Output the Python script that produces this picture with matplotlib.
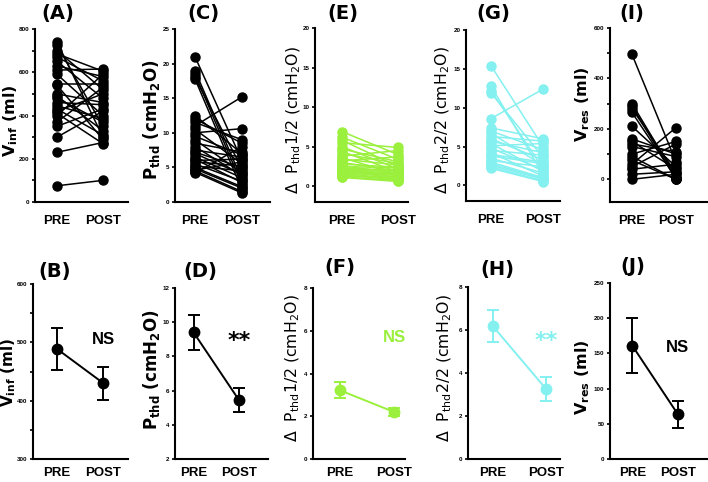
import matplotlib
matplotlib.use("Agg")
import matplotlib.pyplot as plt
from matplotlib.ticker import MultipleLocator

plt.rcParams['mathtext.default'] = 'regular'

# ---------------- data ----------------
groups = ["PRE", "POST"]

pre_A = [740, 725, 700, 685, 670, 650, 630, 610, 590, 545, 540, 500, 490, 480, 460, 445, 430, 420, 410, 400, 370, 350, 300, 230, 75]
post_A = [300, 350, 520, 605, 560, 480, 580, 615, 400, 545, 290, 460, 330, 370, 450, 385, 310, 500, 270, 590, 530, 430, 420, 275, 100]

pre_C = [21, 19, 18.5, 18, 17.8, 12.5, 12, 11.5, 11, 10.5, 10, 9.5, 9, 8.5, 8, 7.5, 7.2, 7, 6.5, 6.2, 6, 5.8, 5.5, 5.2, 5, 4.8, 4.6, 4.5, 4.3, 4.2]
post_C = [6.0, 3.2, 2.5, 4.8, 1.8, 7.0, 8.5, 9.0, 15.2, 5.5, 10.6, 6.8, 4.2, 7.2, 3.8, 6.5, 5.0, 4.0, 3.5, 2.8, 6.2, 5.2, 3.0, 4.5, 2.2, 2.0, 5.8, 1.5, 1.3, 8.0]

pre_E = [6.9, 6.2, 5.8, 5.5, 5.0, 4.7, 4.4, 4.1, 3.8, 3.6, 3.4, 3.2, 3.0, 2.8, 2.6, 2.5, 2.4, 2.3, 2.2, 2.1, 2.0, 1.9, 1.8, 1.7, 1.6, 1.5, 1.4, 1.3, 1.2, 1.1]
post_E = [4.0, 3.4, 2.5, 4.9, 2.2, 3.1, 1.8, 2.9, 4.5, 1.5, 2.7, 3.7, 1.9, 2.4, 1.6, 2.3, 1.3, 2.0, 1.1, 2.1, 1.5, 1.0, 1.8, 1.4, 0.9, 1.7, 0.8, 1.2, 0.7, 0.6]

pre_G = [15.4, 12.8, 12.2, 11.9, 8.6, 7.4, 7.0, 6.7, 6.3, 6.0, 5.7, 5.4, 5.1, 4.8, 4.5, 4.2, 4.0, 3.8, 3.5, 3.2, 3.0, 2.8, 2.6, 2.4, 2.2]
post_G = [5.0, 1.4, 2.2, 3.6, 12.4, 6.0, 4.6, 2.6, 5.7, 3.3, 4.2, 1.8, 5.4, 2.0, 3.9, 1.2, 3.0, 2.8, 1.6, 2.4, 1.0, 0.9, 0.8, 0.6, 0.5]

pre_I = [495, 300, 290, 280, 265, 210, 160, 150, 140, 130, 100, 90, 75, 60, 50, 40, 20, 0]
post_I = [70, 10, 0, 25, 5, 50, 100, 40, 110, 90, 150, 0, 0, 205, 140, 60, 30, 20]

mean_B = [489, 430]; sem_B = [36, 28]
mean_D = [9.4, 5.43]; sem_D = [1.0, 0.7]
mean_F = [3.22, 2.2]; sem_F = [0.36, 0.2]
mean_H = [6.18, 3.25]; sem_H = [0.73, 0.57]
mean_J = [161, 63.5]; sem_J = [39, 19]

BLACK = "#000000"
GREEN = "#9af03c"
CYAN = "#84f0f0"

W, H = 708, 482
fig = plt.figure(figsize=(W / 100, H / 100), dpi=100)

narrow = ['Liberation Sans', 'DejaVu Sans']


def make_ax(left, right, top, bottom, f0, f1, ylim, major, minor, pad=9):
    ax = fig.add_axes([left / W, 1 - bottom / H, (right - left) / W, (bottom - top) / H])
    span = 1.0 / (f1 - f0)
    ax.set_xlim(-f0 * span, (1 - f0) * span)
    ax.set_ylim(*ylim)
    for s in ['top', 'right']:
        ax.spines[s].set_visible(False)
    for s in ['left', 'bottom']:
        ax.spines[s].set_linewidth(1.5)
    ax.set_xticks([0, 1])
    ax.set_xticklabels(groups, fontsize=9.5, fontweight='bold', family=narrow,
                       fontstretch='condensed')
    ax.tick_params(axis='x', length=0, pad=pad)
    ax.yaxis.set_major_locator(MultipleLocator(major))
    if minor:
        ax.yaxis.set_minor_locator(MultipleLocator(minor))
    ax.tick_params(axis='y', which='both', direction='out', length=2.5, width=1.2,
                   labelsize=4.5, pad=1.5)
    for lab in ax.get_yticklabels():
        lab.set_fontweight('bold')
        lab.set_family(narrow)
    return ax


def paired(ax, pre, post, color):
    for a, b in zip(pre, post):
        ax.plot([0, 1], [a, b], color=color, lw=1.1, marker='o', ms=6.5,
                markerfacecolor=color, markeredgecolor=color, clip_on=False, zorder=3)


def meanplot(ax, mean, sem, color):
    ax.errorbar([0, 1], mean, yerr=sem, color=color, lw=1.4, marker='o', ms=7.5,
                capsize=4, capthick=1.4, elinewidth=1.4, zorder=3)


def ylabel(text, x, y, size=12, weight='bold'):
    fig.text(x / W, 1 - y / H, text, fontsize=size, fontweight=weight, rotation=90,
             ha='center', va='center')


def title(text, x, y):
    fig.text(x / W, 1 - y / H, text, fontsize=14, fontweight='bold', ha='center', va='center')


LBL_V = 11.5
LBL_P = 12
LBL_D = 11.3

# ---------------- top row ----------------
axA = make_ax(35, 128, 29, 202, 0.237, 0.73, (0, 800), 200, 100)
paired(axA, pre_A, post_A, BLACK)
ylabel(r'V$_{\mathbf{inf}}$ (ml)', 11, 121, LBL_V)
title('(A)', 58, 14)

axC = make_ax(175, 270, 29, 202, 0.21, 0.705, (0, 25), 5, None)
paired(axC, pre_C, post_C, BLACK)
ylabel(r'P$_{\mathbf{thd}}$ (cmH$_{\mathbf{2}}$O)', 151, 120, LBL_P)
title('(C)', 203, 14)

axE = make_ax(315, 408, 28, 202, 0.29, 0.89, (-2, 20), 5, None)
paired(axE, pre_E, post_E, GREEN)
ylabel(r'Δ  P$_{thd}$1/2 (cmH$_2$O)', 294, 120, LBL_D, 'normal')
title('(E)', 343, 14)

axG = make_ax(466, 560, 30, 201, 0.266, 0.82, (-2, 20), 5, None)
paired(axG, pre_G, post_G, CYAN)
ylabel(r'Δ  P$_{thd}$2/2 (cmH$_2$O)', 443, 120, LBL_D, 'normal')
title('(G)', 493, 14)

axI = make_ax(610, 707, 28, 202, 0.227, 0.68, (-90, 600), 200, 100)
paired(axI, pre_I, post_I, BLACK)
ylabel(r'V$_{\mathbf{res}}$ (ml)', 583, 104, LBL_V)
title('(I)', 632, 14)

# ---------------- bottom row ----------------
axB = make_ax(33, 128, 284, 459, 0.25, 0.74, (300, 600), 100, 50, pad=6)
meanplot(axB, mean_B, sem_B, BLACK)
ylabel(r'V$_{\mathbf{inf}}$ (ml)', 8.5, 372, 11)
axB.text(1, 505, 'NS', fontsize=12, fontweight='bold', family=narrow, fontstretch='condensed',
         ha='center', va='center')
title('(B)', 55, 272)

axD = make_ax(175, 268, 288, 459, 0.20, 0.69, (2, 12), 2, None, pad=6)
meanplot(axD, mean_D, sem_D, BLACK)
ylabel(r'P$_{\mathbf{thd}}$ (cmH$_{\mathbf{2}}$O)', 151, 370, LBL_P)
axD.text(1, 8.9, '**', fontsize=16, fontweight='bold', ha='center', va='center')
title('(D)', 200, 272)

axF = make_ax(313, 405, 288, 459, 0.29, 0.88, (0, 8), 2, None, pad=6)
meanplot(axF, mean_F, sem_F, GREEN)
ylabel(r'Δ  P$_{thd}$1/2 (cmH$_2$O)', 293, 368, LBL_D, 'normal')
axF.text(1, 5.7, 'NS', fontsize=12, fontweight='bold', family=narrow, fontstretch='condensed',
         color=GREEN, ha='center', va='center')
title('(F)', 340, 268)

axH = make_ax(468, 560, 287, 459, 0.27, 0.85, (0, 8), 2, None, pad=6)
meanplot(axH, mean_H, sem_H, CYAN)
ylabel(r'Δ  P$_{thd}$2/2 (cmH$_2$O)', 445, 368, LBL_D, 'normal')
axH.text(1, 5.5, '**', fontsize=16, fontweight='bold', color=CYAN, ha='center', va='center')
title('(H)', 497, 270)

axJ = make_ax(610, 707, 283, 459, 0.23, 0.70, (0, 250), 50, None, pad=6)
meanplot(axJ, mean_J, sem_J, BLACK)
ylabel(r'V$_{\mathbf{res}}$ (ml)', 583, 377, LBL_V)
axJ.text(1, 158, 'NS', fontsize=12, fontweight='bold', family=narrow, fontstretch='condensed',
         ha='center', va='center')
title('(J)', 633, 267)

fig.savefig('out.png', dpi=100)
